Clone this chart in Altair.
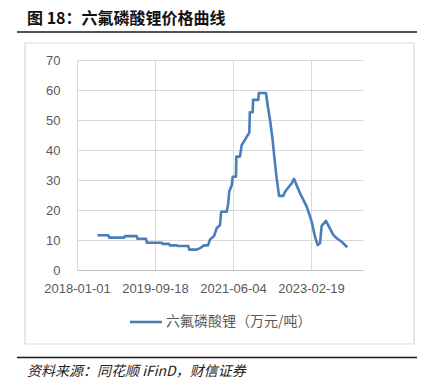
import altair as alt
import pandas as pd

dates = [
    "2018-06-14", "2018-09-09", "2018-09-16", "2019-01-15", "2019-01-20", "2019-04-24",
    "2019-05-01", "2019-07-08", "2019-07-15", "2019-11-11", "2019-11-18", "2020-01-08",
    "2020-01-15", "2020-03-10", "2020-03-17", "2020-06-11", "2020-06-18", "2020-08-17",
    "2020-09-13", "2020-10-15", "2020-11-16", "2020-12-02", "2021-01-03", "2021-01-24",
    "2021-02-20", "2021-03-01", "2021-04-15", "2021-04-27", "2021-05-05", "2021-05-25",
    "2021-06-02", "2021-06-28", "2021-07-01", "2021-07-30", "2021-08-13", "2021-08-31",
    "2021-09-22", "2021-10-13", "2021-10-17", "2021-11-09", "2021-11-12", "2021-12-24",
    "2021-12-28", "2022-02-23", "2022-03-09", "2022-03-28", "2022-04-18", "2022-05-01",
    "2022-05-20", "2022-06-08", "2022-07-12", "2022-07-26", "2022-09-17", "2022-10-06",
    "2022-11-23", "2023-01-16", "2023-02-25", "2023-03-23", "2023-04-14", "2023-05-02",
    "2023-05-16", "2023-06-19", "2023-08-17", "2023-09-13", "2023-10-23", "2023-12-07",
]
prices = [
    11.6, 11.6, 10.8, 10.8, 11.3, 11.3,
    10.4, 10.4, 9.1, 9.1, 8.7, 8.7,
    8.2, 8.2, 8.0, 8.0, 6.8, 6.8,
    7.3, 8.2, 8.2, 10.2, 11.3, 13.9,
    15.0, 19.4, 19.4, 22.2, 26.1, 28.3,
    31.1, 31.1, 37.8, 37.8, 41.7, 42.8,
    44.4, 45.8, 52.6, 52.6, 56.7, 56.7,
    59.0, 59.0, 55.0, 50.0, 43.3, 37.8,
    30.6, 24.7, 24.7, 26.1, 28.9, 30.4,
    25.6, 21.1, 16.1, 11.1, 8.3, 8.9,
    14.7, 16.4, 11.7, 10.6, 9.4, 7.6,
]
tick_dates = [(2018, 1, 1), (2019, 9, 18), (2021, 6, 4), (2023, 2, 19)]
y_ticks = [0, 10, 20, 30, 40, 50, 60, 70]
series_name = "六氟磷酸锂（万元/吨）"
title_text = "图 18：六氟磷酸锂价格曲线"
source_text = "资料来源：同花顺 iFinD，财信证券"

df = pd.DataFrame({"date": dates, "price": prices})

LINE = "#4A7EBB"
GRID = "#D9D9D9"
LABEL = "#595959"
CJK = "Noto Sans CJK SC"

x_enc = alt.X(
    "date:T",
    scale=alt.Scale(type="utc",
                    domain=[alt.DateTime(year=2018, month=1, date=1, utc=True),
                            alt.DateTime(year=2024, month=4, date=11, utc=True)]),
    axis=alt.Axis(
        values=[alt.DateTime(year=y, month=m, date=d, utc=True) for y, m, d in tick_dates],
        format="%Y-%m-%d", title=None, grid=True, gridColor=GRID, gridWidth=1,
        ticks=False, domain=True, domainColor="#BFBFBF", domainWidth=1,
        labelColor=LABEL, labelFont="Liberation Sans", labelFontSize=13,
        labelPadding=12, labelFlush=False, labelOverlap=False,
    ),
)
y_enc = alt.Y(
    "price:Q",
    scale=alt.Scale(domain=[0, 70], nice=False),
    axis=alt.Axis(
        values=y_ticks, title=None, grid=True, gridColor=GRID, gridWidth=1,
        ticks=False, domain=False, labelColor=LABEL, labelFont="Liberation Sans",
        labelFontSize=13, labelPadding=17,
    ),
)

line = alt.Chart(df).mark_line(color=LINE, strokeWidth=2.6, strokeJoin="round").encode(
    x=x_enc, y=y_enc
)

one = pd.DataFrame({"k": [0]})
base = alt.Chart(one)

border = base.mark_rect(fill=None, stroke=GRID, strokeWidth=1.2).encode(
    x=alt.value(-52), x2=alt.value(337), y=alt.value(-17), y2=alt.value(284)
)
title_rule = base.mark_rule(color="#1a1a1a", strokeWidth=1.6).encode(
    x=alt.value(-60), x2=alt.value(346), y=alt.value(-28)
)
foot_rule = base.mark_rule(color="#1a1a1a", strokeWidth=1.6).encode(
    x=alt.value(-60), x2=alt.value(346), y=alt.value(297.5)
)
title = base.mark_text(
    text=title_text, font=CJK, fontSize=16, fontWeight="bold", color="#111111",
    align="left", baseline="middle",
).encode(x=alt.value(-50), y=alt.value(-41))
source = base.mark_text(
    text=source_text, font=CJK, fontSize=14, fontStyle="italic", color="#222222",
    align="left", baseline="middle",
).encode(x=alt.value(-50), y=alt.value(312))
leg_line = base.mark_rule(color=LINE, strokeWidth=2.6).encode(
    x=alt.value(53), x2=alt.value(85), y=alt.value(262)
)
leg_text = base.mark_text(
    text=series_name, font=CJK, fontSize=14, color=LABEL, align="left", baseline="middle",
).encode(x=alt.value(89), y=alt.value(262))

chart = alt.layer(
    border, line, title_rule, foot_rule, title, source, leg_line, leg_text
).properties(
    width=286, height=210,
    autosize=alt.AutoSizeParams(type="none"),
    padding={"left": 69, "top": 52, "right": 54, "bottom": 112},
).configure_view(stroke=None)

chart.save("out.html", embed_options={"renderer": "svg", "actions": False})
